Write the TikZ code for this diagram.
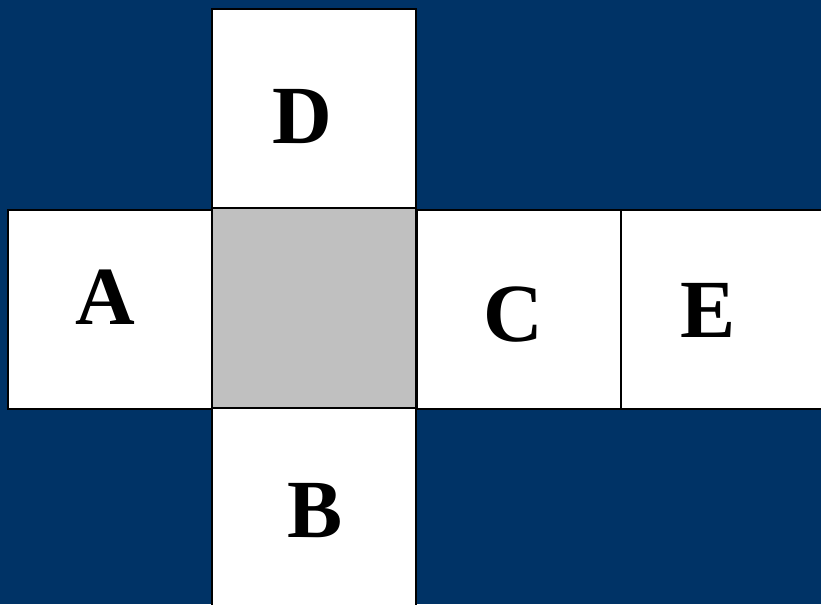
\documentclass[tikz,border=0pt]{standalone}
\usepackage{fontspec}
\setmainfont{Liberation Serif}
\definecolor{bgblue}{HTML}{003366}
\definecolor{midgray}{HTML}{C0C0C0}
\begin{document}
\begin{tikzpicture}[x=0.75pt,y=-0.75pt,
  face/.style={draw=black,line width=1.5pt,fill=white,minimum width=204*0.75pt,minimum height=199*0.75pt,inner sep=0pt,outer sep=0pt},
  letter/.style={font=\fontsize{62}{62}\selectfont\bfseries,anchor=base,inner sep=0pt}]
\fill[bgblue] (0,0) rectangle (821,604);
\useasboundingbox (0,0) rectangle (821,604);
\clip (0,0) rectangle (821,604);
\node[face] (d) at (314,108.5) {};
\node[face] (a) at (110,309) {};
\node[face,fill=midgray,minimum height=200*0.75pt] (g) at (314,308) {};
\node[face] (c) at (518.5,309) {};
\node[face] (e) at (723,309) {};
\node[face,minimum height=200*0.75pt] (b) at (314,508) {};
\node[letter] (ld) at (302,143) {D};
\node[letter] (la) at (105,324) {A};
\node[letter] (lc) at (513,341) {C};
\node[letter] (le) at (708,337) {E};
\node[letter] (lb) at (315,537) {B};
\end{tikzpicture}
\end{document}
